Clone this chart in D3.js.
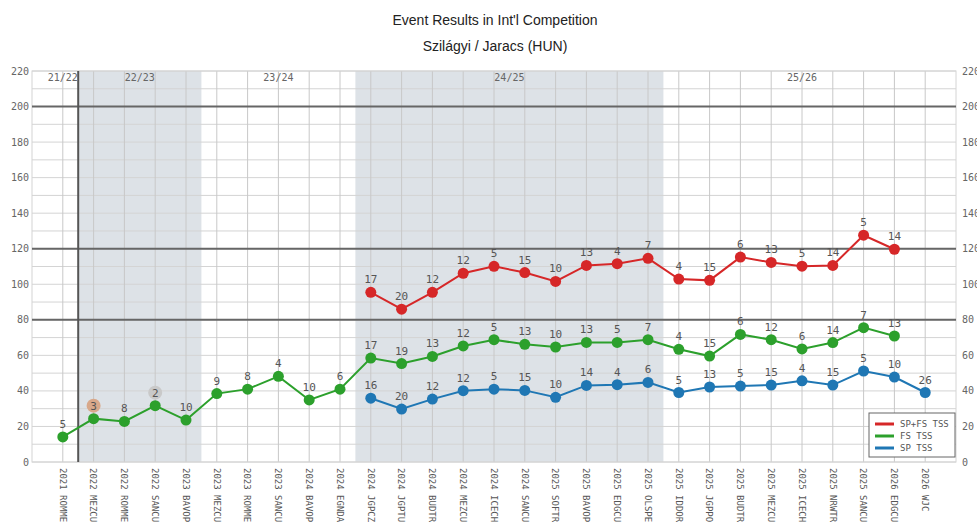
<!DOCTYPE html>
<html>
<head>
<meta charset="utf-8">
<script src="https://cdn.jsdelivr.net/npm/d3@7"></script>
<style>
  body { margin: 0; background: #fff; }
  svg { display: block; }
</style>
</head>
<body>
<svg width="977" height="522"></svg>
<script>
const events = [
  "2021 ROMMEM", "2022 MEZCUP", "2022 ROMMEM", "2022 SANCUP", "2023 BAVOPEN",
  "2023 MEZCUP", "2023 ROMMEM", "2023 SANCUP", "2024 BAVOPEN", "2024 EGNDAW",
  "2024 JGPCZE", "2024 JGPTUR", "2024 BUDTRO", "2024 MEZCUP", "2024 ICECHA",
  "2024 SANCUP", "2025 SOFTRO", "2025 BAVOPEN", "2025 EDGCUP", "2025 OLSPEN",
  "2025 IDDORI", "2025 JGPPOL", "2025 BUDTRO", "2025 MEZCUP", "2025 ICECHA",
  "2025 NRWTRO", "2025 SANCUP", "2026 EDGCUP", "2026 WJC"
];

// seasons: label, first and last event index
const seasons = [
  { name: "21/22", from: 0, to: 0, shade: false },
  { name: "22/23", from: 1, to: 4, shade: true },
  { name: "23/24", from: 5, to: 9, shade: false },
  { name: "24/25", from: 10, to: 19, shade: true },
  { name: "25/26", from: 20, to: 28, shade: false }
];

const totalScore = [null, null, null, null, null, null, null, null, null, null,
  95.5, 86.0, 95.5, 106.2, 110.1, 106.6, 101.6, 110.6, 111.6, 114.6,
  102.9, 102.2, 115.3, 112.3, 110.2, 110.6, 127.6, 119.7, null];
const totalRank = [null, null, null, null, null, null, null, null, null, null,
  17, 20, 12, 12, 5, 15, 10, 13, 4, 7, 4, 15, 6, 13, 5, 14, 5, 14, null];

const fsScore = [14.1, 24.4, 22.8, 31.7, 23.6, 38.5, 41.0, 48.2, 34.9, 41.0,
  58.5, 55.4, 59.4, 65.3, 68.8, 66.2, 64.7, 67.3, 67.3, 68.8,
  63.4, 59.6, 71.8, 68.8, 63.6, 67.2, 75.6, 70.9, null];
const fsRank = [5, 3, 8, 2, 10, 9, 8, 4, 10, 6,
  17, 19, 13, 12, 5, 13, 10, 13, 5, 7, 4, 15, 6, 12, 6, 14, 7, 13, null];

const spScore = [null, null, null, null, null, null, null, null, null, null,
  35.9, 29.8, 35.4, 40.1, 41.0, 40.3, 36.4, 43.1, 43.5, 44.8,
  39.1, 42.2, 42.7, 43.3, 45.7, 43.3, 51.2, 47.8, 39.1];
const spRank = [null, null, null, null, null, null, null, null, null, null,
  16, 20, 12, 12, 5, 15, 10, 14, 4, 6, 5, 13, 5, 15, 4, 15, 5, 10, 26];

const yTicks = [0, 20, 40, 60, 80, 100, 120, 140, 160, 180, 200, 220];
const thresholds = [80, 120, 200];

const series = [
  { name: "SP+FS TSS", color: "#d62728", scores: totalScore, ranks: totalRank },
  { name: "FS TSS", color: "#2ca02c", scores: fsScore, ranks: fsRank },
  { name: "SP TSS", color: "#1f77b4", scores: spScore, ranks: spRank }
];

const svg = d3.select("svg");
const margin = { top: 71, right: 21, bottom: 60, left: 32 };
const width = 977 - margin.left - margin.right;
const height = 522 - margin.top - margin.bottom;
const mono = "'DejaVu Sans Mono', monospace";

svg.append("text")
  .attr("x", 495).attr("y", 25)
  .attr("text-anchor", "middle")
  .style("font-family", "'Liberation Sans', Arial, sans-serif")
  .style("font-size", "14px")
  .attr("fill", "#222")
  .text("Event Results in Int'l Competition");
svg.append("text")
  .attr("x", 495).attr("y", 51)
  .attr("text-anchor", "middle")
  .style("font-family", "'Liberation Sans', Arial, sans-serif")
  .style("font-size", "14px")
  .attr("fill", "#222")
  .text("Szilágyi / Jaracs (HUN)");

const g = svg.append("g").attr("transform", `translate(${margin.left},${margin.top})`);

const x = d3.scalePoint().domain(d3.range(events.length)).range([0, width]).padding(1);
const y = d3.scaleLinear().domain([0, 220]).range([height, 0]);
const step = x.step();

// shaded seasons
g.selectAll("rect.season")
  .data(seasons.filter(s => s.shade))
  .enter().append("rect")
  .attr("x", d => x(d.from) - step / 2)
  .attr("width", d => x(d.to) - x(d.from) + step)
  .attr("y", 0)
  .attr("height", height)
  .attr("fill", "#dde2e7");

// grid, every 10
g.append("g")
  .selectAll("line")
  .data(d3.range(0, 221, 10))
  .enter().append("line")
  .attr("x1", 0).attr("x2", width)
  .attr("y1", d => y(d)).attr("y2", d => y(d))
  .attr("stroke", "#d4d4d4")
  .attr("stroke-width", 1);

g.append("g")
  .selectAll("line")
  .data(d3.range(events.length))
  .enter().append("line")
  .attr("x1", d => x(d)).attr("x2", d => x(d))
  .attr("y1", 0).attr("y2", height)
  .attr("stroke", "#c8c8c8")
  .attr("stroke-width", 1);

g.append("rect")
  .attr("width", width).attr("height", height)
  .attr("fill", "none")
  .attr("stroke", "#d4d4d4");

// thresholds
g.append("g")
  .selectAll("line")
  .data(thresholds)
  .enter().append("line")
  .attr("x1", 0).attr("x2", width)
  .attr("y1", d => y(d)).attr("y2", d => y(d))
  .attr("stroke", "#666")
  .attr("stroke-width", 2);

// first season divider
g.append("line")
  .attr("x1", x(0) + step / 2).attr("x2", x(0) + step / 2)
  .attr("y1", 0).attr("y2", height)
  .attr("stroke", "#555")
  .attr("stroke-width", 2);

// season names
g.selectAll("text.season")
  .data(seasons)
  .enter().append("text")
  .attr("x", d => (x(d.from) + x(d.to)) / 2)
  .attr("y", 10)
  .attr("text-anchor", "middle")
  .style("font-family", mono)
  .style("font-size", "10px")
  .attr("fill", "#666")
  .text(d => d.name);

// y labels both sides
g.selectAll("text.yl")
  .data(yTicks)
  .enter().append("text")
  .attr("x", -3)
  .attr("y", d => y(d))
  .attr("dy", "0.35em")
  .attr("text-anchor", "end")
  .style("font-family", mono)
  .style("font-size", "10px")
  .attr("fill", "#666")
  .text(d => d);
g.selectAll("text.yr")
  .data(yTicks)
  .enter().append("text")
  .attr("x", width + 6)
  .attr("y", d => y(d))
  .attr("dy", "0.35em")
  .style("font-family", mono)
  .style("font-size", "10px")
  .attr("fill", "#666")
  .text(d => d);

// x labels, rotated
g.selectAll("text.xl")
  .data(events)
  .enter().append("text")
  .attr("transform", (d, i) => `translate(${x(i)},${height + 6}) rotate(90)`)
  .attr("dy", "0.35em")
  .style("font-family", mono)
  .style("font-size", "9px")
  .attr("fill", "#555")
  .text(d => d);

// series
const line = d3.line()
  .defined(d => d.v != null)
  .x(d => x(d.i))
  .y(d => y(d.v));

const medalColors = { 1: "#e8d27a", 2: "#c9c9c9", 3: "#d8a88a" };

series.forEach(s => {
  const pts = s.scores.map((v, i) => ({ i, v, r: s.ranks[i] })).filter(d => d.v != null);
  g.append("path")
    .datum(s.scores.map((v, i) => ({ i, v })))
    .attr("fill", "none")
    .attr("stroke", s.color)
    .attr("stroke-width", 2)
    .attr("d", line);
  g.append("g").selectAll("circle")
    .data(pts)
    .enter().append("circle")
    .attr("cx", d => x(d.i))
    .attr("cy", d => y(d.v))
    .attr("r", 5.5)
    .attr("fill", s.color);
  g.append("g").selectAll("circle")
    .data(pts.filter(d => medalColors[d.r]))
    .enter().append("circle")
    .attr("cx", d => x(d.i))
    .attr("cy", d => y(d.v) - 13)
    .attr("r", 7)
    .attr("fill", d => medalColors[d.r]);
  g.append("g").selectAll("text")
    .data(pts)
    .enter().append("text")
    .attr("x", d => x(d.i))
    .attr("y", d => y(d.v) - 9)
    .attr("text-anchor", "middle")
    .style("font-family", mono)
    .style("font-size", "11px")
    .attr("fill", "#555")
    .text(d => d.r);
});

// legend
const lg = svg.append("g").attr("transform", "translate(869,413)");
lg.append("rect")
  .attr("width", 86).attr("height", 44)
  .attr("fill", "#fff")
  .attr("stroke", "#666");
series.forEach((s, k) => {
  lg.append("line")
    .attr("x1", 6).attr("x2", 25)
    .attr("y1", 11 + k * 12).attr("y2", 11 + k * 12)
    .attr("stroke", s.color)
    .attr("stroke-width", 3);
  lg.append("text")
    .attr("x", 31).attr("y", 11 + k * 12)
    .attr("dy", "0.35em")
    .style("font-family", mono)
    .style("font-size", "9px")
    .attr("fill", "#555")
    .text(s.name);
});
</script>
</body>
</html>
